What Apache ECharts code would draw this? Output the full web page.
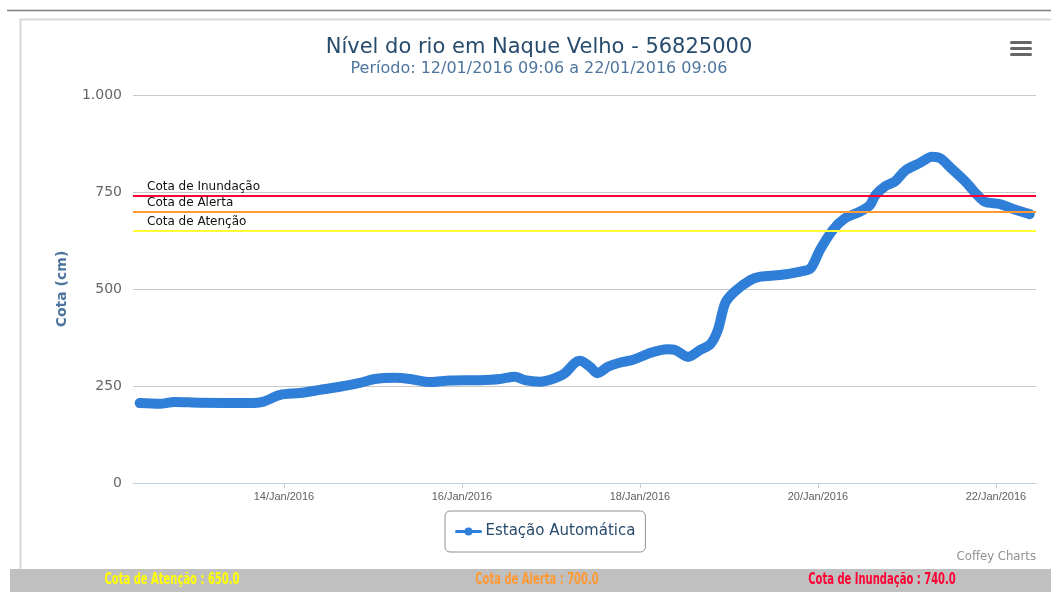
<!DOCTYPE html>
<html>
<head>
<meta charset="utf-8">
<title>Nível do rio em Naque Velho</title>
<script src="https://cdn.jsdelivr.net/npm/echarts@6/dist/echarts.min.js"></script>
<style>
  html, body { margin: 0; padding: 0; background: #fff; }
  #chart { width: 1051px; height: 592px; }
</style>
</head>
<body>
<div id="chart"></div>
<script>
// leituras da estação (hora local, cota em cm)
const times = [
  '2016-01-12 09:06', '2016-01-12 14:30', '2016-01-12 18:30', '2016-01-13 01:15',
  '2016-01-13 14:45', '2016-01-13 18:15', '2016-01-13 23:00', '2016-01-14 04:15',
  '2016-01-14 09:45', '2016-01-14 15:00', '2016-01-14 20:30', '2016-01-15 00:30',
  '2016-01-15 06:00', '2016-01-15 10:00', '2016-01-15 15:30', '2016-01-15 20:45',
  '2016-01-16 05:00', '2016-01-16 10:15', '2016-01-16 14:15', '2016-01-16 17:00',
  '2016-01-16 21:00', '2016-01-17 01:00', '2016-01-17 03:45', '2016-01-17 06:30',
  '2016-01-17 07:45', '2016-01-17 10:30', '2016-01-17 12:30', '2016-01-17 15:30',
  '2016-01-17 18:30', '2016-01-17 22:00', '2016-01-18 02:45', '2016-01-18 07:15',
  '2016-01-18 09:30', '2016-01-18 13:00', '2016-01-18 16:15', '2016-01-18 19:00',
  '2016-01-18 21:00', '2016-01-18 23:00', '2016-01-19 01:30', '2016-01-19 05:45',
  '2016-01-19 08:30', '2016-01-19 13:45', '2016-01-19 19:15', '2016-01-19 22:00',
  '2016-01-20 00:30', '2016-01-20 04:00', '2016-01-20 07:15', '2016-01-20 11:15',
  '2016-01-20 14:00', '2016-01-20 15:30', '2016-01-20 18:00', '2016-01-20 20:45',
  '2016-01-20 23:30', '2016-01-21 03:30', '2016-01-21 06:45', '2016-01-21 09:00',
  '2016-01-21 11:30', '2016-01-21 15:45', '2016-01-21 18:30', '2016-01-21 21:00',
  '2016-01-22 01:00', '2016-01-22 05:15', '2016-01-22 09:06'
]
const cota = [
  206, 204, 209, 207,
  206, 209, 227, 232,
  240, 248, 258, 268,
  271, 268, 260, 264,
  265, 268, 274, 265,
  261, 270, 283, 310,
  315, 300, 283, 300,
  310, 317, 335, 345,
  343, 325, 343, 358,
  394, 464, 493, 523,
  532, 536, 545, 553,
  600, 652, 682, 699,
  716, 742, 764, 777,
  805, 825, 841, 837,
  815, 777, 747, 725,
  719, 704, 693
]

// cotas de referência
const refNames = ['Cota de Inundação', 'Cota de Alerta', 'Cota de Atenção']
const refValues = [740, 700, 650]
const refColors = ['#ff0033', '#ff9933', '#ffff33']

const xTicks = ['2016-01-14 00:00', '2016-01-16 00:00', '2016-01-18 00:00', '2016-01-20 00:00', '2016-01-22 00:00']
const yTicks = [0, 250, 500, 750, 1000]
const xMin = '2016-01-12 07:18'
const xMax = '2016-01-22 10:48'

const toTime = (s) => new Date(s.replace(' ', 'T')).getTime()
const meses = ['Jan', 'Feb', 'Mar', 'Apr', 'May', 'Jun', 'Jul', 'Aug', 'Sep', 'Oct', 'Nov', 'Dec']
const pad = (n) => (n < 10 ? '0' : '') + n

const chart = echarts.init(document.getElementById('chart'))

const baseFont = 'DejaVu Sans, Verdana, sans-serif'
const narrowFont = 'DejaVu Sans Condensed, Arial, sans-serif'

// texto da barra inferior, estreitado na horizontal
const barText = (x, text, color) => ({
  type: 'text', silent: true, x: x, y: 580.5, scaleX: 0.74,
  style: { text: text, align: 'center', verticalAlign: 'middle', fill: color, font: 'bold 15px ' + narrowFont },
})

const option = {
  animation: false,
  title: [
    {
      text: 'Nível do rio em Naque Velho - 56825000',
      left: 534,
      top: 32,
      textAlign: 'center',
      textStyle: { fontFamily: baseFont, fontSize: 21, fontWeight: 'normal', color: '#274b6d' },
    },
    {
      text: 'Período: 12/01/2016 09:06 a 22/01/2016 09:06',
      left: 534,
      top: 56,
      textAlign: 'center',
      textStyle: { fontFamily: baseFont, fontSize: 16, fontWeight: 'normal', color: '#4d759e' },
    },
  ],
  legend: {
    data: ['Estação Automática'],
    left: 445,
    top: 511,
    padding: [13, 10],
    itemWidth: 24,
    itemHeight: 10,
    borderColor: '#909090',
    borderWidth: 1,
    borderRadius: 5,
    lineStyle: { width: 3 },
    textStyle: { fontFamily: baseFont, fontSize: 15, color: '#274b6d' },
  },
  grid: { left: 133, right: 15, top: 95, bottom: 109 },
  xAxis: {
    // eixo numérico com milissegundos, para marcar os dias pares
    type: 'value',
    min: toTime(xMin),
    max: toTime(xMax),
    axisLine: { lineStyle: { color: '#c0d0e0', width: 1 } },
    axisTick: {
      show: true,
      length: 5,
      lineStyle: { color: '#c0d0e0' },
      customValues: xTicks.map(toTime),
    },
    axisLabel: {
      margin: 8,
      color: '#606060',
      fontFamily: 'Liberation Sans, Arial, sans-serif',
      fontSize: 11,
      customValues: xTicks.map(toTime),
      formatter: (v) => {
        const d = new Date(v)
        return pad(d.getDate()) + '/' + meses[d.getMonth()] + '/' + d.getFullYear()
      },
    },
    splitLine: { show: false },
  },
  yAxis: {
    type: 'value',
    min: yTicks[0],
    max: yTicks[yTicks.length - 1],
    interval: 250,
    name: 'Cota (cm)',
    nameLocation: 'middle',
    nameGap: 64,
    nameTextStyle: { fontFamily: baseFont, fontSize: 14, fontWeight: 'bold', color: '#4d759e' },
    axisLine: { show: false },
    axisTick: { show: false },
    axisLabel: {
      margin: 11,
      color: '#666',
      fontFamily: baseFont,
      fontSize: 14,
      formatter: (v) => v >= 1000 ? Math.floor(v / 1000) + '.' + String(v % 1000).padStart(3, '0') : String(v),
    },
    splitLine: { lineStyle: { color: '#c8c8c8' } },
  },
  series: [
    {
      name: 'Estação Automática',
      type: 'line',
      data: times.map((t, i) => [toTime(t), cota[i]]),
      smooth: 0.3,
      symbol: 'circle',
      symbolSize: 10,
      showSymbol: false,
      itemStyle: { color: '#2f7ed8' },
      lineStyle: { color: '#2f7ed8', width: 10, cap: 'round', join: 'round' },
      markLine: {
        silent: true,
        symbol: 'none',
        animation: false,
        data: refValues.map((v, i) => ({
          name: refNames[i],
          yAxis: v,
          lineStyle: { color: refColors[i], width: 2, type: 'solid' },
        })),
        label: {
          show: true,
          position: 'insideStartTop',
          distance: [14, 3],
          formatter: '{b}',
          color: '#111',
          fontFamily: baseFont,
          fontSize: 12,
        },
      },
    },
  ],
  graphic: [
    // moldura
    { type: 'line', silent: true, shape: { x1: 7, y1: 10.5, x2: 1051, y2: 10.5 }, style: { stroke: '#808080', lineWidth: 1.5 } },
    { type: 'line', silent: true, shape: { x1: 20, y1: 19.5, x2: 1051, y2: 19.5 }, style: { stroke: '#d8d8d8', lineWidth: 2 } },
    { type: 'line', silent: true, shape: { x1: 20.5, y1: 19, x2: 20.5, y2: 569 }, style: { stroke: '#d8d8d8', lineWidth: 2 } },
    // menu
    { type: 'rect', silent: true, shape: { x: 1010, y: 41, width: 22, height: 3, r: 1.5 }, style: { fill: '#666' } },
    { type: 'rect', silent: true, shape: { x: 1010, y: 47, width: 22, height: 3, r: 1.5 }, style: { fill: '#666' } },
    { type: 'rect', silent: true, shape: { x: 1010, y: 53, width: 22, height: 3, r: 1.5 }, style: { fill: '#666' } },
    // crédito
    {
      type: 'text', silent: true, x: 1036, y: 557,
      style: { text: 'Coffey Charts', align: 'right', verticalAlign: 'middle', fill: '#909090', font: '13px ' + narrowFont },
    },
    // barra inferior com as cotas
    { type: 'rect', silent: true, shape: { x: 10, y: 569, width: 1041, height: 23 }, style: { fill: '#c0c0c0' } },
    barText(172, 'Cota de Atenção : 650.0', '#ffff00'),
    barText(537, 'Cota de Alerta : 700.0', '#ff9933'),
    barText(882, 'Cota de Inundação : 740.0', '#ff0033'),
  ],
}

chart.setOption(option)
</script>
</body>
</html>
